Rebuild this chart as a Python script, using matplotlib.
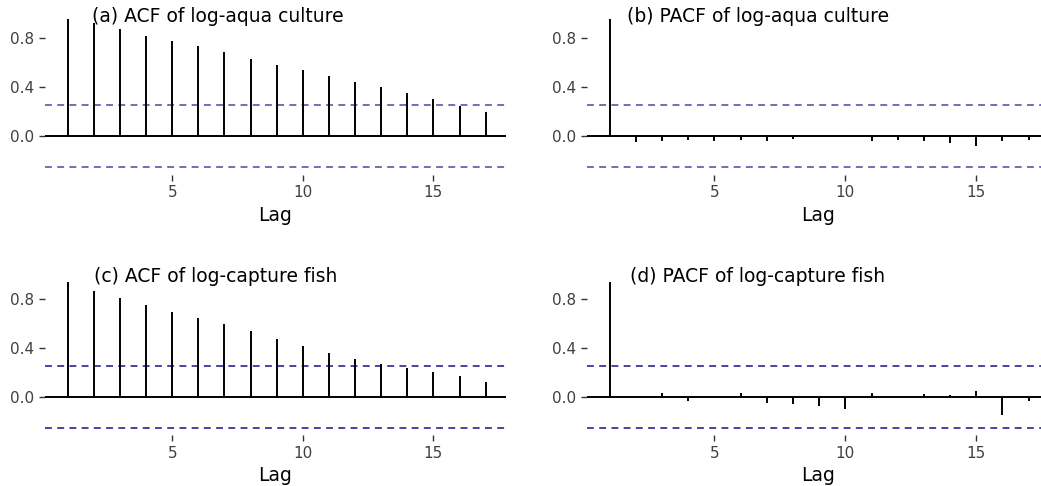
import matplotlib
matplotlib.use("Agg")
import matplotlib.pyplot as plt

# lags 1..17
lags = list(range(1, 18))

acf_aqua = [0.958, 0.922, 0.873, 0.819, 0.778, 0.732, 0.683, 0.631, 0.582,
            0.541, 0.493, 0.441, 0.403, 0.354, 0.305, 0.242, 0.193]
pacf_aqua = [0.958, -0.05, -0.04, -0.03, -0.04, -0.03, -0.04, -0.025, 0.0,
             0.01, -0.04, -0.03, -0.04, -0.06, -0.08, -0.04, -0.03]
acf_capture = [0.936, 0.865, 0.805, 0.748, 0.697, 0.645, 0.599, 0.536, 0.476,
               0.416, 0.357, 0.307, 0.267, 0.237, 0.207, 0.169, 0.125]
pacf_capture = [0.936, 0.0, 0.03, -0.035, 0.0, 0.03, -0.05, -0.06, -0.07,
                -0.10, 0.035, 0.0, 0.025, 0.015, 0.045, -0.15, -0.03]

ci_aqua = 0.255
ci_capture = 0.253

titles = ["(a) ACF of log-aqua culture", "(b) PACF of log-aqua culture",
          "(c) ACF of log-capture fish", "(d) PACF of log-capture fish"]

W, H = 1041, 486
fig = plt.figure(figsize=(W / 100, H / 100), dpi=100)


def px_axes(left, top, right, bottom):
    return fig.add_axes([left / W, 1 - bottom / H, (right - left) / W, (bottom - top) / H])


def draw_panel(ax, values, ci, ylim, ci_color):
    ax.axhline(ci, color=ci_color, lw=1.1, linestyle=(0, (4.5, 3.5)))
    ax.axhline(-ci, color=ci_color, lw=1.1, linestyle=(0, (4.5, 3.5)))
    ax.axhline(0, color="black", lw=1.4)
    ax.vlines(lags, 0, values, color="black", lw=1.4)
    ax.set_xlim(0.13, 17.78)
    ax.set_ylim(ylim)
    ax.set_xticks([5, 10, 15])
    ax.set_yticks([0.0, 0.4, 0.8])
    ax.set_yticklabels(["0.0", "0.4", "0.8"])
    for s in ["top", "bottom", "left", "right"]:
        ax.spines[s].set_visible(False)
    ax.tick_params(length=4, width=1, color="#333333", labelsize=11,
                   labelcolor="#404040", pad=3.5)
    ax.set_xlabel("Lag", fontsize=13.5, labelpad=4)
    ax.set_facecolor("none")


top_ylim = (-0.316, 1.02)
bot_ylim = (-0.312, 0.995)

ax_a = px_axes(45, 11, 506, 174.7)
draw_panel(ax_a, acf_aqua, ci_aqua, top_ylim, "#4848a8")
ax_b = px_axes(587, 11, 1049, 174.7)
draw_panel(ax_b, pacf_aqua, ci_aqua, top_ylim, "#4848a8")
ax_c = px_axes(45, 275, 506, 435.2)
draw_panel(ax_c, acf_capture, ci_capture, bot_ylim, "#14148c")
ax_d = px_axes(587, 275, 1049, 435.2)
draw_panel(ax_d, pacf_capture, ci_capture, bot_ylim, "#14148c")

# panel titles
title_pos = [(92, 17), (627, 17), (94, 277), (630, 277)]
for t, (x, y) in zip(titles, title_pos):
    fig.text(x / W, 1 - y / H, t, fontsize=13.5, va="center", ha="left")

fig.savefig("out.png", dpi=100)
